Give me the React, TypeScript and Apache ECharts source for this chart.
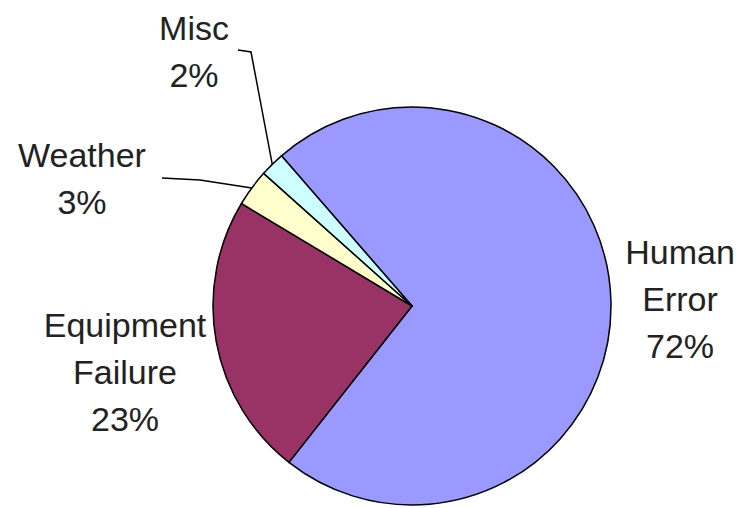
import React, { useEffect, useRef } from "react";
import * as echarts from "echarts";

const categories = ["Human Error", "Equipment Failure", "Weather", "Misc"];
const values = [72, 23, 3, 2];
const colors = ["#9999FF", "#993366", "#FFFFCC", "#CCFFFF"];
const labelLines = ["Human\nError", "Equipment\nFailure", "Weather", "Misc"];

// label anchor positions (layout only)
const LABEL_POS: number[][] = [
  [680, 299],
  [125, 372],
  [82, 178],
  [194, 51],
];
// leader-line elbow/end points (layout only), null = no leader line
const LEADER: (number[][] | null)[] = [
  null,
  null,
  [
    [200, 180],
    [162, 178],
  ],
  [
    [251, 52],
    [238, 50],
  ],
];

export default function App() {
  const ref = useRef<HTMLDivElement>(null);
  useEffect(() => {
    document.body.style.margin = "0";
    const chart = echarts.init(ref.current!, null, { renderer: "svg" });
    chart.setOption({
      animation: false,
      backgroundColor: "#ffffff",
      series: [
        {
          type: "pie",
          center: [412, 306],
          radius: 199,
          startAngle: 131,
          clockwise: true,
          avoidLabelOverlap: false,
          itemStyle: { borderColor: "#000000", borderWidth: 1.5 },
          label: {
            show: true,
            position: "outside",
            fontFamily: "Liberation Sans, Arial, sans-serif",
            fontSize: 34,
            lineHeight: 47,
            color: "#222222",
            align: "center",
            formatter: (p: any) => `${labelLines[p.dataIndex]}\n${Math.round(p.percent)}%`,
          },
          labelLine: {
            show: true,
            lineStyle: { color: "#000000", width: 1.5 },
          },
          labelLayout: (params: any) => {
            const i = params.dataIndex;
            const out: any = {
              x: LABEL_POS[i][0],
              y: LABEL_POS[i][1],
              align: "center",
              verticalAlign: "middle",
            };
            const l = LEADER[i];
            if (l && params.labelLinePoints) {
              out.labelLinePoints = [params.labelLinePoints[0], l[0], l[1]];
            }
            return out;
          },
          data: categories.map((name, i) => ({
            name,
            value: values[i],
            itemStyle: { color: colors[i] },
            labelLine: { show: LEADER[i] !== null },
          })),
        },
      ],
    });
    return () => chart.dispose();
  }, []);
  return (
    <div
      ref={ref}
      style={{ position: "absolute", left: 0, top: 0, width: 742, height: 508 }}
    />
  );
}
